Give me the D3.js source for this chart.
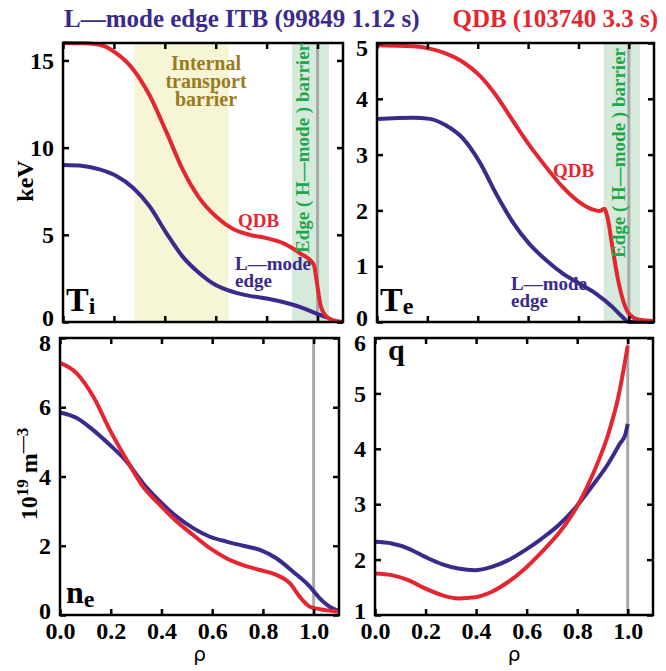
<!DOCTYPE html>
<html><head><meta charset="utf-8">
<script src="https://cdn.jsdelivr.net/npm/d3@7/dist/d3.min.js"></script>
<style>body{margin:0;background:#fff} svg{display:block}</style>
</head><body>
<script>
// ---------- data ----------
const rhoTicks = [0, 0.2, 0.4, 0.6, 0.8, 1.0];
const rhoTickLabels = ["0.0", "0.2", "0.4", "0.6", "0.8", "1.0"];
const tiTicks = [0, 5, 10, 15];
const teTicks = [0, 1, 2, 3, 4, 5];
const neTicks = [0, 2, 4, 6, 8];
const qTicks = [1, 2, 3, 4, 5, 6];

const tiQdbRho = [0, 0.08, 0.145, 0.21, 0.275, 0.34, 0.406, 0.47, 0.536, 0.60, 0.668, 0.733, 0.799, 0.864, 0.93, 0.985, 0.996, 1.01, 1.03, 1.06, 1.1];
const tiQdb    = [16.0, 15.98, 15.9, 15.4, 14.5, 13.0, 10.9, 8.75, 7.1, 6.06, 5.33, 5.0, 4.81, 4.52, 3.95, 3.3, 2.4, 1.08, 0.39, 0.1, 0.0];
const tiLRho   = [0, 0.079, 0.144, 0.21, 0.275, 0.34, 0.406, 0.47, 0.536, 0.60, 0.668, 0.733, 0.8, 0.864, 0.93, 0.996, 1.035];
const tiL      = [9.0, 8.95, 8.75, 8.37, 7.7, 6.64, 5.1, 3.75, 2.8, 2.12, 1.73, 1.5, 1.35, 1.15, 0.87, 0.48, 0.27];

const teQdbRho = [0, 0.143, 0.209, 0.275, 0.341, 0.407, 0.473, 0.539, 0.605, 0.671, 0.737, 0.803, 0.869, 0.885, 0.902, 0.915, 0.935, 0.955, 0.975, 1.0, 1.04, 1.1];
const teQdb    = [4.96, 4.94, 4.90, 4.81, 4.66, 4.42, 4.06, 3.61, 3.17, 2.78, 2.42, 2.15, 2.0, 1.99, 2.03, 1.88, 1.34, 0.81, 0.42, 0.15, 0.04, 0.02];
const teLRho   = [0, 0.143, 0.209, 0.275, 0.341, 0.407, 0.473, 0.539, 0.605, 0.671, 0.737, 0.803, 0.869, 0.935, 0.975, 1.0, 1.1];
const teL      = [3.64, 3.66, 3.64, 3.52, 3.29, 2.87, 2.30, 1.79, 1.40, 1.11, 0.87, 0.69, 0.51, 0.27, 0.09, 0.0, 0.0];

const neQdbRho = [0, 0.066, 0.131, 0.197, 0.263, 0.328, 0.394, 0.46, 0.525, 0.591, 0.656, 0.722, 0.788, 0.853, 0.906, 0.945, 0.985, 1.024, 1.095];
const neQdb    = [7.28, 6.98, 6.31, 5.34, 4.48, 3.70, 3.18, 2.70, 2.31, 1.93, 1.64, 1.44, 1.30, 1.16, 0.92, 0.53, 0.24, 0.17, 0.10];
const neLRho   = [0, 0.066, 0.131, 0.197, 0.263, 0.328, 0.394, 0.46, 0.525, 0.591, 0.656, 0.722, 0.788, 0.853, 0.919, 0.985, 1.024, 1.063, 1.095];
const neL      = [5.85, 5.69, 5.34, 4.91, 4.43, 3.80, 3.28, 2.84, 2.51, 2.26, 2.12, 2.0, 1.88, 1.64, 1.25, 0.82, 0.48, 0.24, 0.13];

const qQdbRho = [0, 0.066, 0.132, 0.198, 0.264, 0.33, 0.396, 0.462, 0.528, 0.594, 0.66, 0.726, 0.792, 0.858, 0.924, 0.963, 1.0];
const qQdb    = [1.75, 1.72, 1.63, 1.48, 1.36, 1.30, 1.32, 1.42, 1.60, 1.84, 2.14, 2.47, 2.90, 3.50, 4.28, 4.94, 5.86];
const qLRho   = [0, 0.066, 0.132, 0.198, 0.264, 0.33, 0.396, 0.462, 0.528, 0.594, 0.66, 0.726, 0.792, 0.858, 0.924, 0.97, 0.99, 1.0];
const qL      = [2.32, 2.29, 2.20, 2.05, 1.92, 1.84, 1.81, 1.87, 1.99, 2.17, 2.38, 2.62, 2.93, 3.32, 3.74, 4.10, 4.25, 4.45];

const itbBand = [0.28, 0.65];
const edgeBand = [0.9, 1.045];

// ---------- style ----------
const RED = "#e3262f", PURPLE = "#3b2a8b", GREEN_TXT = "#22a64b", OLIVE = "#9c7a1e";
const SERIF = "'Liberation Serif','Times New Roman',serif";

const W = 666, H = 671;
const svg = d3.select("body").append("svg").attr("width", W).attr("height", H)
  .style("font-family", SERIF);

svg.append("text").attr("x", 64).attr("y", 27).attr("fill", PURPLE)
  .attr("font-size", 25).attr("font-weight", "bold").text("L\u2014mode edge ITB (99849 1.12 s)");
svg.append("text").attr("x", 658).attr("y", 27).attr("fill", RED).attr("text-anchor", "end")
  .attr("font-size", 25).attr("font-weight", "bold").text("QDB (103740 3.3 s)");

function panel(cfg) {
  const x = d3.scaleLinear().domain([0, 1.1]).range([cfg.x0, cfg.x1]);
  const y = d3.scaleLinear().domain(cfg.yDomain).range([cfg.y1, cfg.y0]);
  const g = svg.append("g");
  (cfg.bands || []).forEach(b => {
    g.append("rect").attr("x", x(b.r[0])).attr("y", cfg.y0)
      .attr("width", x(b.r[1]) - x(b.r[0])).attr("height", cfg.y1 - cfg.y0).attr("fill", b.fill);
  });
  g.append("line").attr("x1", x(1)).attr("x2", x(1)).attr("y1", cfg.y0).attr("y2", cfg.y1)
    .attr("stroke", "#a9a9a9").attr("stroke-width", 3);
  const line = d3.line().x(d => x(d[0])).y(d => y(d[1])).curve(d3.curveMonotoneX);
  cfg.series.forEach(s => {
    g.append("path").datum(d3.zip(s.rho, s.val)).attr("d", line)
      .attr("fill", "none").attr("stroke", s.color).attr("stroke-width", 4);
  });
  // axes (ticks pointing inward)
  const ax = (axis, tx, ty) => {
    const a = g.append("g").attr("transform", `translate(${tx},${ty})`).call(axis);
    a.select(".domain").remove();
    a.selectAll(".tick line").attr("stroke", "#000").attr("stroke-width", 2.5);
    a.selectAll("text").attr("font-family", SERIF).attr("font-weight", "bold").attr("font-size", 24).attr("fill", "#000");
    return a;
  };
  ax(d3.axisBottom(x).tickValues(rhoTicks).tickSize(-6).tickPadding(7)
      .tickFormat((d, i) => cfg.xLabels ? rhoTickLabels[i] : ""), 0, cfg.y1);
  ax(d3.axisTop(x).tickValues(rhoTicks).tickSize(-6).tickFormat(""), 0, cfg.y0);
  const yl = ax(d3.axisLeft(y).tickValues(cfg.yTicks).tickSize(-6).tickPadding(9).tickFormat(d3.format("d")), cfg.x0, 0);
  const [dmin, dmax] = cfg.yDomain;
  yl.selectAll(".tick text").attr("transform", d => d === dmax ? "translate(0,5)" : d === dmin ? "translate(0,-4)" : null);
  ax(d3.axisRight(y).tickValues(cfg.yTicks).tickSize(-6).tickFormat(""), cfg.x1, 0);
  g.append("rect").attr("x", cfg.x0).attr("y", cfg.y0).attr("width", cfg.x1 - cfg.x0).attr("height", cfg.y1 - cfg.y0)
    .attr("fill", "none").attr("stroke", "#000").attr("stroke-width", 2.5);
  if (cfg.xLabels) {
    g.append("text").attr("x", (cfg.x0 + cfg.x1) / 2).attr("y", 661).attr("text-anchor", "middle")
      .attr("font-family", "'DejaVu Sans',sans-serif").attr("font-size", 20).text("\u03c1");
  }
  return {x, y, g};
}

const bandFillY = "#f6f5d6", bandFillG = "#d5eadb";

// Ti
panel({x0: 63, x1: 343, y0: 43, y1: 322, yDomain: [0, 16], yTicks: tiTicks, xLabels: false,
  bands: [{r: itbBand, fill: bandFillY}, {r: edgeBand, fill: bandFillG}],
  series: [{rho: tiLRho, val: tiL, color: PURPLE}, {rho: tiQdbRho, val: tiQdb, color: RED}]});
// Te
panel({x0: 377, x1: 654, y0: 43, y1: 322, yDomain: [0, 5], yTicks: teTicks, xLabels: false,
  bands: [{r: edgeBand, fill: bandFillG}],
  series: [{rho: teLRho, val: teL, color: PURPLE}, {rho: teQdbRho, val: teQdb, color: RED}]});
// ne
panel({x0: 60, x1: 339, y0: 338, y1: 615, yDomain: [0, 8], yTicks: neTicks, xLabels: true,
  series: [{rho: neLRho, val: neL, color: PURPLE}, {rho: neQdbRho, val: neQdb, color: RED}]});
// q
panel({x0: 375, x1: 653, y0: 338, y1: 615, yDomain: [1, 6], yTicks: qTicks, xLabels: true,
  series: [{rho: qLRho, val: qL, color: PURPLE}, {rho: qQdbRho, val: qQdb, color: RED}]});

// ---------- annotations ----------
function txt(x, y, s, size, color, anchor) {
  return svg.append("text").attr("x", x).attr("y", y).attr("font-size", size).attr("font-weight", "bold")
    .attr("fill", color).attr("text-anchor", anchor || "start").text(s);
}
// multi-line label in one text element
function mtxt(x, y, lines, size, color, anchor, lh) {
  const t = svg.append("text").attr("x", x).attr("y", y).attr("font-size", size).attr("font-weight", "bold")
    .attr("fill", color).attr("text-anchor", anchor || "start");
  lines.forEach((s, i) => t.append("tspan").attr("x", x).attr("dy", i ? lh : 0).text(s));
  return t;
}
// Ti
mtxt(206, 70, ["Internal", "transport", "barrier"], 20, OLIVE, "middle", 18);
txt(238, 227, "QDB", 19, RED);
mtxt(235, 270, ["L\u2014mode", "edge"], 19, PURPLE, "start", 17);
svg.append("text").attr("transform", "translate(309,148) rotate(-90)").attr("text-anchor", "middle")
  .attr("font-size", 19).attr("font-weight", "bold").attr("fill", GREEN_TXT).text("Edge ( H\u2014mode ) barrier");
{ const t = txt(66, 311, "T", 34, "#000"); t.append("tspan").attr("font-size", 24).attr("dy", 3).text("i"); }
// Te
txt(553, 177, "QDB", 19, RED);
mtxt(511, 290, ["L\u2014mode", "edge"], 19, PURPLE, "start", 17);
svg.append("text").attr("transform", "translate(625,153) rotate(-90)").attr("text-anchor", "middle")
  .attr("font-size", 19).attr("font-weight", "bold").attr("fill", GREEN_TXT).text("Edge ( H\u2014mode ) barrier");
{ const t = txt(380, 311, "T", 34, "#000"); t.append("tspan").attr("font-size", 24).attr("dy", 3).text("e"); }
// ne
{ const t = txt(66, 603, "n", 32, "#000"); t.append("tspan").attr("font-size", 24).attr("dy", 4).text("e"); }
// q
txt(388, 360, "q", 30, "#000");

// y labels
svg.append("text").attr("transform", "translate(33,181) rotate(-90)").attr("text-anchor", "middle")
  .attr("font-size", 24).attr("font-weight", "bold").text("keV");
{
  const t = svg.append("text").attr("transform", "translate(37,474) rotate(-90)").attr("text-anchor", "middle")
    .attr("font-size", 24).attr("font-weight", "bold");
  t.append("tspan").text("10");
  t.append("tspan").attr("font-size", 17).attr("dy", -9).text("19");
  t.append("tspan").attr("dy", 9).text(" m");
  t.append("tspan").attr("font-size", 17).attr("dy", -9).text("\u20143");
}
</script>
</body></html>
